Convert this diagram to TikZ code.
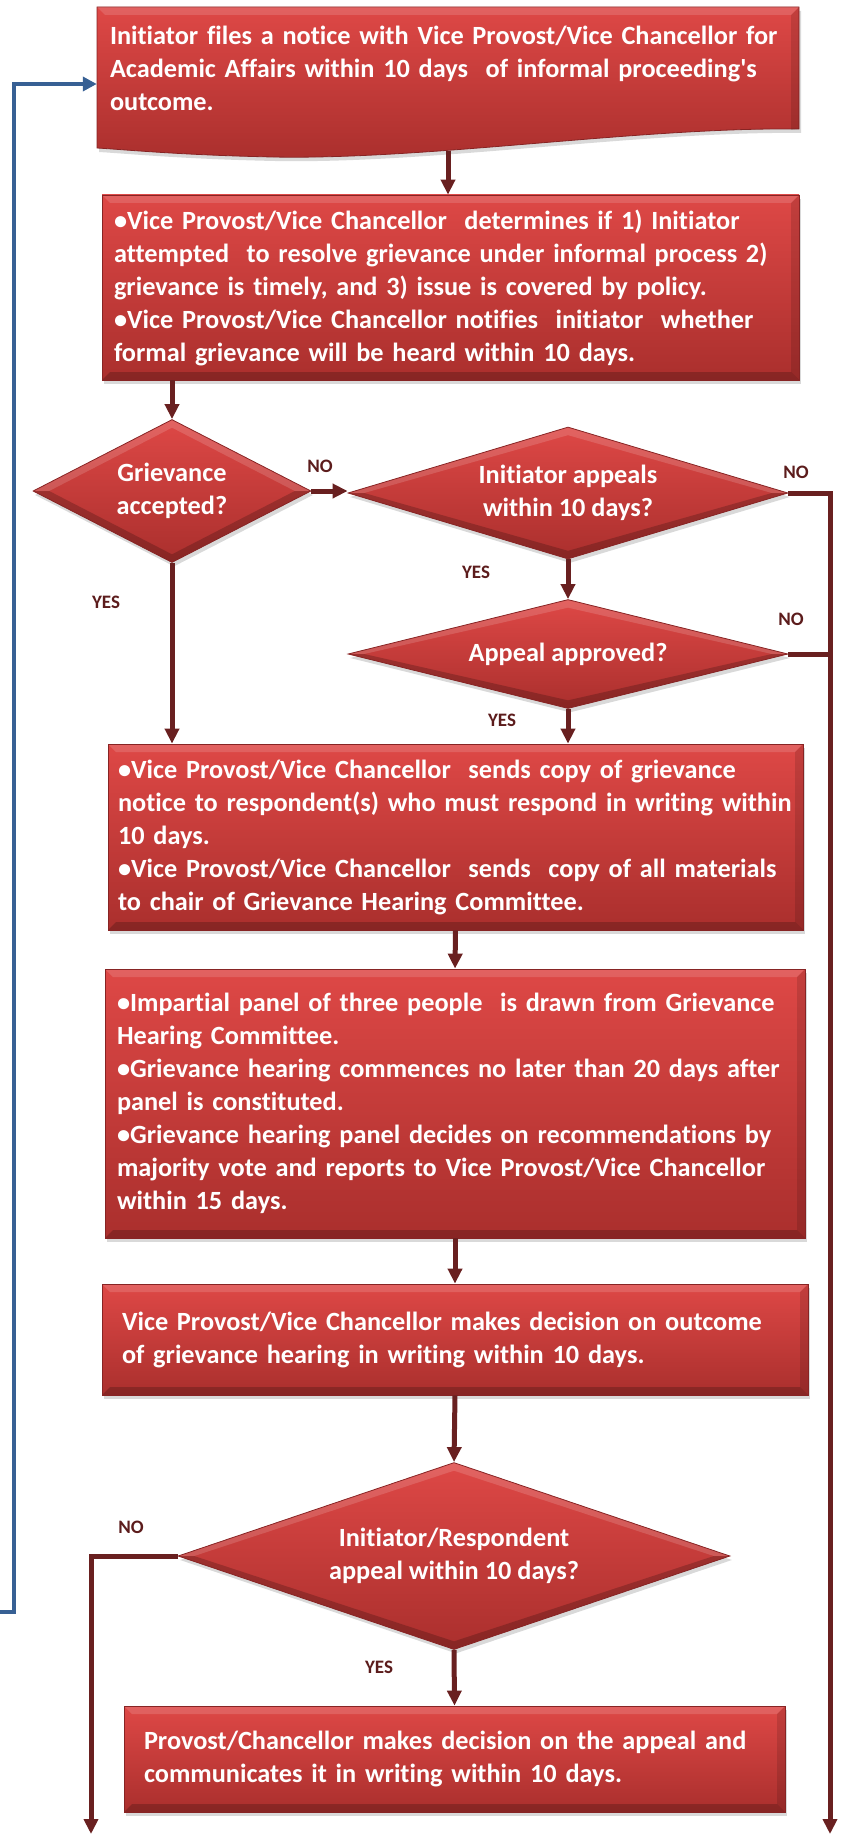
\documentclass[tikz,border=0pt]{standalone}
\usepackage{fontspec}
\setmainfont{Carlito}[Ligatures={NoCommon}]
\usetikzlibrary{arrows.meta,shapes.geometric,shadows}

\definecolor{boxtop}{RGB}{222,72,70}
\definecolor{boxbot}{RGB}{170,47,45}
\definecolor{boxedge}{RGB}{135,36,36}
\definecolor{flowcol}{RGB}{105,32,32}
\definecolor{labelcol}{RGB}{92,28,28}
\definecolor{loopcol}{RGB}{55,96,148}
\newcommand\boxtext{\fontsize{26.3}{33}\selectfont\bfseries}
\newcommand\answertext{\fontsize{19}{22}\selectfont\bfseries}

\begin{document}
\begin{tikzpicture}[x=1pt,y=-1pt]
\tikzset{box/.style = {rectangle, draw=boxedge, line width=0.8pt, top color=boxtop, bottom color=boxbot, text=white, font=\boxtext, align=left, inner xsep=12pt, inner ysep=0pt, drop shadow={opacity=0.3, shadow xshift=2pt, shadow yshift=-4pt},
  path picture={
    \fill[white, opacity=0.14] (path picture bounding box.north west) -- (path picture bounding box.north east) -- ([shift={(-8pt,-8pt)}]path picture bounding box.north east) -- ([shift={(8pt,-8pt)}]path picture bounding box.north west) -- cycle;
    \fill[black, opacity=0.2] (path picture bounding box.south west) -- (path picture bounding box.south east) -- ([shift={(-8pt,8pt)}]path picture bounding box.south east) -- ([shift={(8pt,8pt)}]path picture bounding box.south west) -- cycle;
    \fill[black, opacity=0.12] (path picture bounding box.north east) -- (path picture bounding box.south east) -- ([shift={(-8pt,8pt)}]path picture bounding box.south east) -- ([shift={(-8pt,-8pt)}]path picture bounding box.north east) -- cycle;
  }}}
\tikzset{query/.style = {diamond, draw=boxedge, line width=0.8pt, top color=boxtop, bottom color=boxbot, text=white, font=\boxtext, align=center, inner sep=0pt, drop shadow={opacity=0.3, shadow xshift=2pt, shadow yshift=-4pt},
  path picture={
    \fill[white, opacity=0.15] (path picture bounding box.west) -- (path picture bounding box.north) -- (path picture bounding box.east) -- ([xshift=-16pt]path picture bounding box.east) -- ([yshift=-8pt]path picture bounding box.north) -- ([xshift=16pt]path picture bounding box.west) -- cycle;
    \fill[black, opacity=0.2] (path picture bounding box.west) -- (path picture bounding box.south) -- (path picture bounding box.east) -- ([xshift=-16pt]path picture bounding box.east) -- ([yshift=8pt]path picture bounding box.south) -- ([xshift=16pt]path picture bounding box.west) -- cycle;
  }}}
\tikzset{edge/.style = {-{Triangle[length=15pt,width=14pt]}, line width=5pt, draw=flowcol}}
\tikzset{line/.style = {line width=5pt, draw=flowcol}}
\tikzset{answer/.style = {font=\answertext, text=labelcol}}
\useasboundingbox (0,0) rectangle (845,1835);

%notice shape
\path[draw=boxedge, line width=0.8pt, top color=boxtop, bottom color=boxbot, drop shadow={opacity=0.3, shadow xshift=2pt, shadow yshift=-4pt}]
  (97,7) -- (799,7) -- (799,129) .. controls (640,127) and (430,160) .. (273,157) .. controls (180,155) and (130,150) .. (97,148) -- cycle;
\fill[white, opacity=0.14] (97,7) -- (799,7) -- (791,15) -- (105,15) -- cycle;
\fill[black, opacity=0.12] (799,7) -- (799,129) -- (791,130) -- (791,15) -- cycle;

%vertices
\node[text=white, font=\boxtext, align=left, text width=676pt, inner xsep=13pt, inner ysep=0pt, minimum height=122pt] (a) at (448,68) {Initiator files a notice with Vice Provost/Vice Chancellor for\\Academic Affairs within 10 days~ of informal proceeding\textquotesingle s\\outcome.};
\coordinate (aw) at (448,151);
\node[box, text width=673pt, minimum height=185pt] (b) at (450.5,287.5) {•Vice Provost/Vice Chancellor~ determines if 1) Initiator\\attempted~ to resolve grievance under informal process 2)\\grievance is timely, and 3) issue is covered by policy.\\•Vice Provost/Vice Chancellor notifies~ initiator~ whether\\formal grievance will be heard within 10 days.};
\node[query, aspect=1.94, minimum width=278pt, minimum height=143pt] (c) at (172,491) {Grievance\\accepted?};
\node[query, aspect=3.3, minimum width=440pt, minimum height=132pt] (d) at (568,493) {Initiator appeals\\within 10 days?};
\node[query, aspect=4, minimum width=440pt, minimum height=109pt] (e) at (568,654) {Appeal approved?};
\node[box, text width=675pt, inner xsep=10pt, minimum height=186pt] (f) at (455.5,837) {•Vice Provost/Vice Chancellor~ sends copy of grievance\\notice to respondent(s) who must respond in writing within\\10 days.\\•Vice Provost/Vice Chancellor~ sends~ copy of all materials\\to chair of Grievance Hearing Committee.};
\node[box, text width=676pt, minimum height=269pt] (g) at (455,1103.5) {•Impartial panel of three people~ is drawn from Grievance\\Hearing Committee.\\•Grievance hearing commences no later than 20 days after\\panel is constituted.\\•Grievance hearing panel decides on recommendations by\\majority vote and reports to Vice Provost/Vice Chancellor\\within 15 days.};
\node[box, text width=666pt, inner xsep=20pt, minimum height=111pt] (h) at (455,1339.5) {Vice Provost/Vice Chancellor makes decision on outcome\\of grievance hearing in writing within 10 days.};
\node[query, aspect=2.95, minimum width=552pt, minimum height=187pt] (i) at (454,1556) {Initiator/Respondent\\appeal within 10 days?};
\node[box, text width=621pt, inner xsep=20pt, minimum height=106pt] (j) at (454.5,1759) {Provost/Chancellor makes decision on the appeal and\\communicates it in writing within 10 days.};
\coordinate (r1) at (830,1834);
\coordinate (l1) at (91,1834);
\coordinate (s1) at (0,1612);

%labels
\node[answer] (n1) at (320,466) {NO};
\node[answer] (n2) at (796,472) {NO};
\node[answer] (y1) at (476,572) {YES};
\node[answer] (n3) at (791,619) {NO};
\node[answer] (y2) at (502,720) {YES};
\node[answer] (y3) at (106,602) {YES};
\node[answer] (n4) at (131,1527) {NO};
\node[answer] (y4) at (379,1667) {YES};

%edges
\draw[edge] (aw) -- (aw |- b.north);
\draw[edge] (b.south -| c.north) -- (c.north);
\draw[edge] (c.east) -- (c.east -| d.west);
\draw[edge] (d.east) -| (r1);
\draw[line] (e.east) -- (e.east -| r1);
\draw[edge] (d.south) -- (e.north);
\draw[edge] (e.south) -- (e.south |- f.north);
\draw[edge] (c.south) -- (c.south |- f.north);
\draw[edge] (f.south) -- (g.north);
\draw[edge] (g.south) -- (h.north);
\draw[edge] (h.south) -- (i.north);
\draw[edge] (i.west) -| (l1);
\draw[edge] (i.south) -- (j.north);
\draw[-{Triangle[length=14pt,width=14pt]}, line width=3.5pt, draw=loopcol] (s1) -- ++(14,0) |- ([yshift=-16pt]a.west);

\end{tikzpicture}
\end{document}
